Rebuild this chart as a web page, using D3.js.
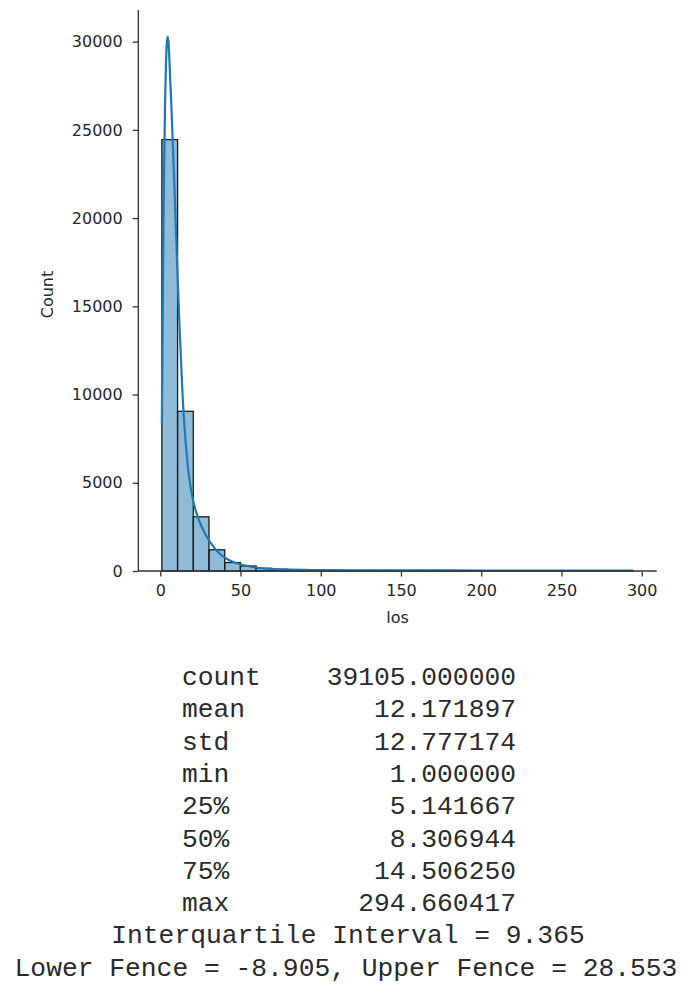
<!DOCTYPE html>
<html>
<head>
<meta charset="utf-8">
<script src="https://cdn.jsdelivr.net/npm/d3@7"></script>
<style>
  html, body { margin: 0; padding: 0; background: #ffffff; }
  svg { display: block; }
</style>
</head>
<body>
<div id="chart"></div>
<script>
// ---------- data ----------
// histogram of length of stay (los), 30 bins from min to max
const binEdges = [1.00, 10.79, 20.58, 30.37, 40.15, 49.94, 59.73, 69.52, 79.31, 89.10,
  98.89, 108.68, 118.46, 128.25, 138.04, 147.83, 157.62, 167.41, 177.20, 186.98,
  196.77, 206.56, 216.35, 226.14, 235.93, 245.72, 255.51, 265.29, 275.08, 284.87, 294.66];
const binCounts = [24450, 9050, 3070, 1200, 480, 285, 155, 100, 70, 50,
  38, 30, 24, 20, 16, 13, 11, 9, 8, 7,
  6, 5, 4, 4, 3, 3, 2, 2, 2, 1];

// KDE curve (scaled to counts)
const kdeX = [1, 1.5, 2, 2.5, 3, 3.5, 4, 4.6, 5.2, 6, 7, 8, 9, 10, 11, 12, 13, 14, 15, 16,
  17, 18, 19, 20, 22, 24, 26, 28, 30, 32, 34, 36, 38, 40, 43, 46, 50, 55, 60, 65,
  70, 80, 90, 100, 120, 140, 160, 180, 200, 230, 260, 294.66];
const kdeY = [8300, 14000, 19500, 23500, 26500, 28500, 29800, 30280, 29900, 28300, 26200,
  23800, 21300, 18800, 16200, 13900, 11800, 9800, 8300, 7100, 6100, 5300, 4700, 4200,
  3450, 2900, 2480, 2100, 1800, 1520, 1280, 1080, 910, 770, 610, 490, 380, 270, 190,
  140, 105, 75, 60, 50, 42, 38, 34, 30, 28, 25, 22, 20];

const xTicks = [0, 50, 100, 150, 200, 250, 300];
const yTicks = [0, 5000, 10000, 15000, 20000, 25000, 30000];
const xLabel = "los";
const yLabel = "Count";

// describe() output
const statLabels = ["count", "mean", "std", "min", "25%", "50%", "75%", "max"];
const statValues = ["39105.000000", "12.171897", "12.777174", "1.000000",
  "5.141667", "8.306944", "14.506250", "294.660417"];
const iqrLine = "Interquartile Interval = 9.365";
const fenceLine = "Lower Fence = -8.905, Upper Fence = 28.553";

// ---------- layout ----------
const W = 686, H = 985;
const plot = { left: 138.3, right: 656.7, top: 10, bottom: 571 };
const textColor = "#262626";
const barColor = "#1f77b4";

const svg = d3.select("#chart").append("svg")
  .attr("width", W).attr("height", H)
  .attr("viewBox", `0 0 ${W} ${H}`);
svg.append("rect").attr("width", W).attr("height", H).attr("fill", "#fff");

const dataMin = binEdges[0], dataMax = binEdges[binEdges.length - 1];
const pad = (dataMax - dataMin) * 0.05;
const x = d3.scaleLinear()
  .domain([dataMin - pad, dataMax + pad])
  .range([plot.left, plot.right]);
const yMax = d3.max(kdeY) * 1.05;
const y = d3.scaleLinear()
  .domain([0, yMax])
  .range([plot.bottom, plot.top]);

// bars
const bars = binCounts.map((c, i) => ({ x0: binEdges[i], x1: binEdges[i + 1], c }));
svg.append("g").selectAll("rect").data(bars).join("rect")
  .attr("x", d => x(d.x0))
  .attr("y", d => y(d.c))
  .attr("width", d => x(d.x1) - x(d.x0))
  .attr("height", d => y(0) - y(d.c))
  .attr("fill", barColor)
  .attr("fill-opacity", 0.5)
  .attr("stroke", "#1a1a1a")
  .attr("stroke-width", 1.3);

// kde line
const kde = kdeX.map((v, i) => [v, kdeY[i]]);
svg.append("path")
  .datum(kde)
  .attr("fill", "none")
  .attr("stroke", barColor)
  .attr("stroke-width", 2.2)
  .attr("stroke-linejoin", "round")
  .attr("d", d3.line().x(d => x(d[0])).y(d => y(d[1])).curve(d3.curveMonotoneX));

// axes
const fontFam = "'DejaVu Sans', sans-serif";
const xAxis = svg.append("g")
  .attr("transform", `translate(0,${plot.bottom})`)
  .call(d3.axisBottom(x).tickValues(xTicks).tickSize(5.6).tickPadding(8).tickSizeOuter(0));
const yAxis = svg.append("g")
  .attr("transform", `translate(${plot.left},0)`)
  .call(d3.axisLeft(y).tickValues(yTicks).tickSize(5.6).tickPadding(10).tickSizeOuter(0).tickFormat(d3.format("d")));

[xAxis, yAxis].forEach(g => {
  g.select(".domain").attr("stroke", "#333").attr("stroke-width", 1.3);
  g.selectAll(".tick line").attr("stroke", "#333").attr("stroke-width", 1.3);
  g.selectAll(".tick text")
    .attr("fill", textColor)
    .style("font-family", fontFam)
    .style("font-size", "16px");
});
xAxis.select(".domain").attr("d", `M${plot.left},0H${plot.right}`);
yAxis.select(".domain").attr("d", `M0,${plot.top}V${plot.bottom}`);

svg.append("text")
  .attr("x", (plot.left + plot.right) / 2)
  .attr("y", 623)
  .attr("text-anchor", "middle")
  .attr("fill", textColor)
  .style("font-family", fontFam)
  .style("font-size", "16px")
  .text(xLabel);

svg.append("text")
  .attr("transform", `translate(53,${(plot.top + plot.bottom) / 2 + 4}) rotate(-90)`)
  .attr("text-anchor", "middle")
  .attr("fill", textColor)
  .style("font-family", fontFam)
  .style("font-size", "16px")
  .text(yLabel);

// stats text block
const mono = "'Liberation Mono', 'Courier New', monospace";
const monoSize = 26.3;
const rowY = d3.scaleLinear().domain([0, 1]).range([685, 717.3]);
const stats = svg.append("g")
  .attr("fill", "#2a2a2a")
  .style("font-family", mono)
  .style("font-size", monoSize + "px");
statLabels.forEach((lab, i) => {
  stats.append("text").attr("x", 182).attr("y", rowY(i)).text(lab);
  stats.append("text").attr("x", 516).attr("y", rowY(i)).attr("text-anchor", "end").text(statValues[i]);
});
stats.append("text").attr("x", 348).attr("y", rowY(8)).attr("text-anchor", "middle")
  .style("white-space", "pre").text(iqrLine);
stats.append("text").attr("x", 346).attr("y", rowY(9)).attr("text-anchor", "middle")
  .style("white-space", "pre").text(fenceLine);
</script>
</body>
</html>
